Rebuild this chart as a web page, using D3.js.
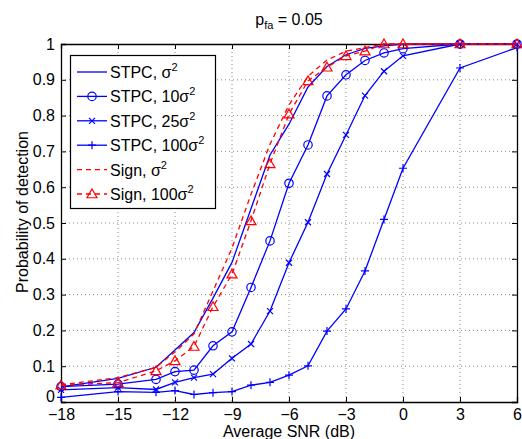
<!DOCTYPE html>
<html>
<head>
<meta charset="utf-8">
<script src="https://cdn.jsdelivr.net/npm/d3@7"></script>
<style>
  body { margin: 0; background: #fff; }
  text { font-family: "Liberation Sans", Arial, sans-serif; }
</style>
</head>
<body>
<script>
// SNR points (dB)
let snr = [-18, -15, -13, -12, -11, -10, -9, -8, -7, -6, -5, -4, -3, -2, -1, 0, 3, 6];
// probability of detection, one array per curve
let stpc1   = [0.042, 0.066, 0.097, 0.145, 0.194, 0.29, 0.39, 0.54, 0.69, 0.776, 0.88, 0.937, 0.97, 0.988, 0.995, 1, 1, 1];
let stpc10  = [0.043, 0.05, 0.063, 0.085, 0.089, 0.157, 0.196, 0.32, 0.45, 0.611, 0.718, 0.855, 0.914, 0.954, 0.975, 0.987, 1, 1];
let stpc25  = [0.034, 0.04, 0.035, 0.055, 0.068, 0.078, 0.122, 0.162, 0.254, 0.389, 0.502, 0.637, 0.746, 0.856, 0.924, 0.967, 1, 1];
let stpc100 = [0.013, 0.029, 0.027, 0.032, 0.021, 0.026, 0.029, 0.047, 0.055, 0.075, 0.101, 0.198, 0.26, 0.366, 0.51, 0.653, 0.933, 0.99];
let sign1   = [0.048, 0.068, 0.097, 0.14, 0.19, 0.31, 0.43, 0.58, 0.72, 0.83, 0.91, 0.955, 0.98, 0.99, 1, 1, 1, 1];
let sign100 = [0.047, 0.054, 0.087, 0.115, 0.155, 0.266, 0.357, 0.506, 0.665, 0.804, 0.897, 0.935, 0.967, 0.98, 1, 1, 1, 1];

let xTicks = [-18, -15, -12, -9, -6, -3, 0, 3, 6];
let yTicks = [0, 0.1, 0.2, 0.3, 0.4, 0.5, 0.6, 0.7, 0.8, 0.9, 1];

let series = [
  {name: "STPC, ", coef: "", vals: stpc1, color: "#0000ff", dash: null, marker: "none"},
  {name: "STPC, ", coef: "10", vals: stpc10, color: "#0000ff", dash: null, marker: "circle"},
  {name: "STPC, ", coef: "25", vals: stpc25, color: "#0000ff", dash: null, marker: "x"},
  {name: "STPC, ", coef: "100", vals: stpc100, color: "#0000ff", dash: null, marker: "plus"},
  {name: "Sign, ", coef: "", vals: sign1, color: "#ff0000", dash: "5,4", marker: "none"},
  {name: "Sign, ", coef: "100", vals: sign100, color: "#ff0000", dash: "5,4", marker: "triangle"}
];

let width = 522, height = 439;
let pLeft = 61, pRight = 517, pTop = 44, pBottom = 402;
let fs = '16px';

let svg = d3.select('body').append('svg')
  .attr('width', width)
  .attr('height', height);

let x = d3.scaleLinear().domain([-18, 6]).range([pLeft, pRight]);
let y = d3.scaleLinear().domain([0, 1]).range([pBottom, pTop]);

// grid
let grid = svg.append('g').attr('stroke', '#555').attr('stroke-width', 0.7).attr('stroke-dasharray', '1,3');
grid.selectAll('line.gx').data(xTicks.slice(1, -1)).enter().append('line')
  .attr('x1', d => x(d)).attr('x2', d => x(d)).attr('y1', pTop).attr('y2', pBottom);
grid.selectAll('line.gy').data(yTicks.slice(1, -1)).enter().append('line')
  .attr('x1', pLeft).attr('x2', pRight).attr('y1', d => y(d)).attr('y2', d => y(d));

// axes (ticks inside, box all round)
let axX = svg.append('g').attr('transform', `translate(0,${pBottom})`)
  .call(d3.axisBottom(x).tickValues(xTicks).tickSize(-5).tickPadding(7).tickFormat(d => d3.format("")(d).replace("-", "−")));
let axX2 = svg.append('g').attr('transform', `translate(0,${pTop})`)
  .call(d3.axisTop(x).tickValues(xTicks).tickSize(-5).tickFormat(""));
let axY = svg.append('g').attr('transform', `translate(${pLeft},0)`)
  .call(d3.axisLeft(y).tickValues(yTicks).tickSize(-5).tickPadding(6).tickFormat(d3.format("")));
let axY2 = svg.append('g').attr('transform', `translate(${pRight},0)`)
  .call(d3.axisRight(y).tickValues(yTicks).tickSize(-5).tickFormat(""));
[axX, axX2, axY, axY2].forEach(a => {
  a.select('.domain').attr('stroke', '#000').attr('stroke-width', 1.3);
  a.selectAll('.tick line').attr('stroke', '#000');
  a.selectAll('text').attr('fill', '#000').style('font-size', fs).style('font-family', '"Liberation Sans", Arial, sans-serif');
});
// MATLAB lifts the "0" so it clears the x labels
axY.selectAll('.tick').filter(d => d == 0).select('text').attr('dy', '-0.05em');

// curves
let line = d3.line().x((d, i) => x(snr[i])).y(d => y(d));

let drawMarker = function(g, type, cx, cy, color) {
  if (type == "circle") {
    g.append('circle').attr('cx', cx).attr('cy', cy).attr('r', 4.2)
      .attr('fill', 'none').attr('stroke', color).attr('stroke-width', 1.2);
  } else if (type == "x") {
    let s = 3;
    g.append('path').attr('d', `M${cx-s},${cy-s}L${cx+s},${cy+s}M${cx-s},${cy+s}L${cx+s},${cy-s}`)
      .attr('stroke', color).attr('stroke-width', 1.2);
  } else if (type == "plus") {
    let s = 4;
    g.append('path').attr('d', `M${cx-s},${cy}L${cx+s},${cy}M${cx},${cy-s}L${cx},${cy+s}`)
      .attr('stroke', color).attr('stroke-width', 1.2);
  } else if (type == "triangle") {
    let s = 5;
    g.append('path').attr('d', `M${cx},${cy-s}L${cx+s},${cy+s*0.75}L${cx-s},${cy+s*0.75}Z`)
      .attr('fill', 'none').attr('stroke', color).attr('stroke-width', 1.2);
  }
}

series.forEach(s => {
  let g = svg.append('g');
  g.append('path').datum(s.vals)
    .attr('d', line)
    .attr('fill', 'none')
    .attr('stroke', s.color)
    .attr('stroke-width', 1.3)
    .attr('stroke-dasharray', s.dash);
  s.vals.forEach((v, i) => drawMarker(g, s.marker, x(snr[i]), y(v), s.color));
});

// legend
let legend = svg.append('g');
legend.append('rect').attr('x', 70.5).attr('y', 55.5).attr('width', 145).attr('height', 153)
  .attr('fill', '#fff').attr('stroke', '#000').attr('stroke-width', 1.2);
series.forEach((s, i) => {
  let ly = 72 + i * 24.4;
  legend.append('line').attr('x1', 77).attr('x2', 107).attr('y1', ly).attr('y2', ly)
    .attr('stroke', s.color).attr('stroke-width', 1.3).attr('stroke-dasharray', s.dash);
  drawMarker(legend, s.marker, 92, ly, s.color);
  let t = legend.append('text').attr('x', 110).attr('y', ly + 6).style('font-size', fs);
  t.append('tspan').text(s.name + s.coef + "σ");
  t.append('tspan').attr('dy', -7).style('font-size', '11px').text("2");
});

// title
let title = svg.append('text').attr('x', 289).attr('y', 25).attr('text-anchor', 'middle').style('font-size', fs);
title.append('tspan').text("p");
title.append('tspan').attr('dy', 4).style('font-size', '11px').text("fa");
title.append('tspan').attr('dy', -4).text(" = 0.05");

// axis labels
svg.append('text').attr('x', 289).attr('y', 437).attr('text-anchor', 'middle').style('font-size', fs)
  .text("Average SNR (dB)");
svg.append('text').attr('transform', 'translate(28,212) rotate(-90)').attr('text-anchor', 'middle').style('font-size', fs)
  .text("Probability of detection");
</script>
</body>
</html>
